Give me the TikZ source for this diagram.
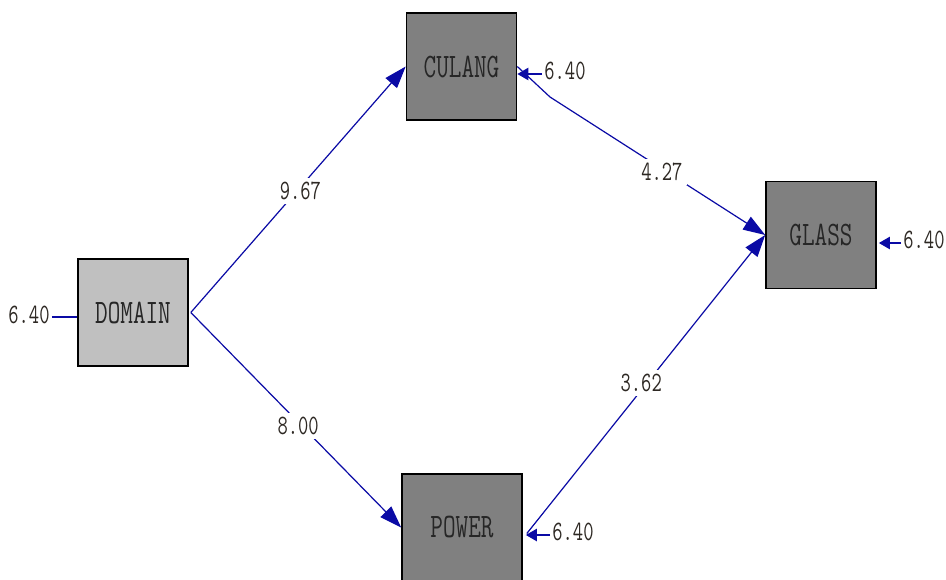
\documentclass[tikz,border=0pt]{standalone}
\usetikzlibrary{arrows.meta}
\definecolor{pathblue}{RGB}{10,10,165}
\definecolor{lightbox}{RGB}{192,192,192}
\definecolor{darkbox}{RGB}{128,128,128}
\definecolor{lbltext}{RGB}{45,40,35}
\tikzset{
  varbox/.style={draw=black, line width=1.6pt, minimum width=110pt, minimum height=107pt, inner sep=0pt,
    font=\ttfamily\fontsize{24.5}{26}\selectfont, text=black!85},
  exobox/.style={varbox, fill=lightbox},
  endobox/.style={varbox, fill=darkbox},
  lbl/.style={fill=white, inner sep=4pt, font=\ttfamily\fontsize{20}{22}\selectfont, text=lbltext},
  errlbl/.style={inner sep=2pt, font=\ttfamily\fontsize{20}{22}\selectfont, text=lbltext},
  pathline/.style={draw=pathblue, line width=1.2pt, -{Triangle[length=22pt,width=15pt]}},
  errline/.style={draw=pathblue, line width=2.2pt, -{Triangle[length=11pt,width=12pt]}},
}
\newcommand{\tallt}[1]{\scalebox{1}[1.4]{#1}}
\begin{document}
\begin{tikzpicture}[x=1pt,y=-1pt]
\useasboundingbox (0,0) rectangle (946,579);
\clip (0,0) rectangle (946,579);
\fill[white] (0,0) rectangle (946,579);
\node[exobox] (domain) at (133,312.5) {\tallt{DOMAIN}};
\node[endobox] (culang) at (461.5,66.5) {\tallt{CULANG}};
\node[endobox] (glass) at (821,235) {\tallt{GLASS}};
\node[endobox, minimum width=120pt] (power) at (462,527.5) {\tallt{POWER}};
% error terms
\node[errlbl] (edomain) at (29,315) {\tallt{6.40}};
\node[errlbl] (eculang) at (565,71) {\tallt{6.40}};
\node[errlbl] (eglass) at (924,240) {\tallt{6.40}};
\node[errlbl] (epower) at (573,532) {\tallt{6.40}};
\draw[draw=pathblue, line width=2pt] ([yshift=-2pt]edomain.east) -- ([yshift=-2pt]edomain.east -| domain.west);
\draw[errline] ([yshift=-3pt]eculang.west) -- ([yshift=-3pt]eculang.west -| culang.east);
\draw[errline] ([yshift=-3pt]eglass.west) -- ([yshift=-3pt,xshift=2pt]eglass.west -| glass.east);
\draw[errline] ([yshift=-3pt]epower.west) -- ([yshift=-3pt,xshift=3pt]epower.west -| power.east);
% paths
\draw[pathline] ([xshift=2pt]domain.east) -- node[lbl, pos=0.51, yshift=-4pt] {\tallt{9.67}} (culang.west);
\draw[pathline] ([xshift=2pt]domain.east) -- node[lbl, pos=0.51, yshift=-4pt] {\tallt{8.00}} (power.west);
\draw[pathline] (culang.east) -- (550,97) -- node[lbl, pos=0.52, yshift=-3pt] {\tallt{4.27}} (glass.west);
\draw[pathline] ([xshift=4pt,yshift=-6pt]power.east) -- node[lbl, pos=0.48, yshift=7pt] {\tallt{3.62}} (glass.west);
\end{tikzpicture}
\end{document}
